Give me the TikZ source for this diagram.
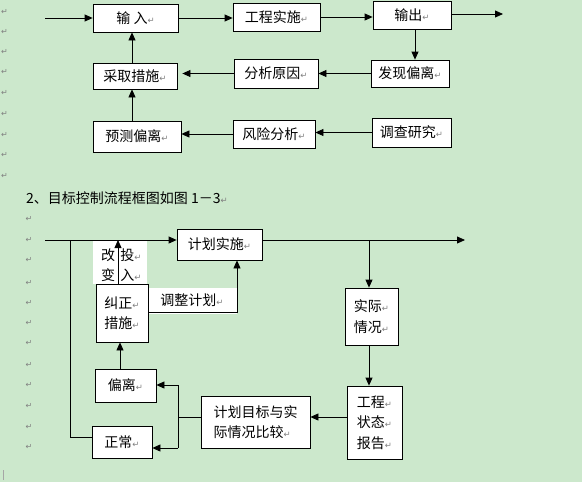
\documentclass[tikz,border=0pt]{standalone}
\usepackage{fontspec}
\setmainfont{Noto Sans CJK SC}
\newfontfamily\symf{DejaVu Sans}
\usetikzlibrary{arrows.meta}
\definecolor{bg}{RGB}{204,232,204}
\newcommand{\pmk}{{\symf\fontsize{8.5}{8.5}\selectfont\textcolor{gray}{↵}}}
\begin{document}
\begin{tikzpicture}[x=1pt,y=-1pt,
  box/.style={draw, fill=white, line width=0.8pt, inner sep=0pt, font=\fontsize{14}{20.5}\selectfont, align=center},
  lbl/.style={inner sep=0pt, font=\fontsize{14}{20.5}\selectfont},
  arr/.style={-{Triangle[length=8pt,width=7pt]}, line width=0.8pt},
  ln/.style={line width=0.8pt},
  mk/.style={inner sep=0pt, font=\symf\fontsize{8}{8}\selectfont, text=gray}]
\fill[bg] (0,0) rectangle (582,482);
\useasboundingbox (0,0) rectangle (582,482);

% margin paragraph marks
\foreach \yy [count=\i] in {12,32,52,72,93,114,135,155,176}
  \node[mk] (ma\i) at (4.5,\yy) {↵};
\foreach \yy [count=\i] in {219,240,260,283,303,323,343,365,385,406,427,447}
  \node[mk] (mb\i) at (29,\yy) {↵};
\draw[gray!70, line width=0.5pt] (3,470) -- (3,480);

% ---------- top diagram ----------
\node[box, minimum width=85pt, minimum height=28pt] (in) at (135.5,18) {输 入\pmk};
\node[box, minimum width=87pt, minimum height=28pt] (exec) at (276.5,17) {工程实施\pmk};
\node[box, minimum width=78pt, minimum height=28pt] (out) at (412,15) {输出\pmk};
\node[box, minimum width=78pt, minimum height=27pt] (find) at (410,73.5) {发现偏离\pmk};
\node[box, minimum width=84pt, minimum height=29pt] (ana) at (276,73.5) {分析原因\pmk};
\node[box, minimum width=84pt, minimum height=26pt] (act) at (135,76) {采取措施\pmk};
\node[box, minimum width=88pt, minimum height=31pt] (pred) at (137,136.5) {预测偏离\pmk};
\node[box, minimum width=82pt, minimum height=28pt] (risk) at (274,134) {风险分析\pmk};
\node[box, minimum width=79pt, minimum height=29pt] (surv) at (411.5,132.5) {调查研究\pmk};

\coordinate (s1) at (45,18);
\coordinate (e1) at (503,14);
\draw[arr] (s1) -- (in.west);
\draw[arr] (in.east) -- (in.east -| exec.west);
\draw[arr] (exec.east) -- (exec.east -| out.west);
\draw[arr] (out.east |- e1) -- (e1);
\draw[arr] ([xshift=3pt]out.south) -- ([xshift=3pt]out.south |- find.north);
\draw[arr] (find.west) -- (find.west -| ana.east);
\draw[arr] (ana.west) -- ([xshift=5pt]ana.west -| act.east);
\draw[arr] ([xshift=-3pt]act.north) -- ([xshift=-3pt]act.north |- in.south);
\draw[arr] ([xshift=-5pt]pred.north) -- ([xshift=-5pt]pred.north |- act.south);
\draw[arr] (risk.west) -- (risk.west -| pred.east);
\draw[arr] (surv.west) -- (surv.west -| risk.east);

% ---------- caption ----------
\node[lbl, anchor=west] (cap) at (26,198) {2、目标控制流程框图如图 1－3\pmk};

% ---------- bottom diagram ----------
% white label areas
\fill[white] (93,241) rectangle (147,284);
\fill[white] (148,288) rectangle (237,314);
\node[lbl] (gai) at (108,255) {改};
\node[lbl] (tou) at (131,255) {投\pmk};
\node[lbl] (bian) at (108,275) {变};
\node[lbl] (ru) at (131,275) {入\pmk};
\node[lbl] (adj) at (192,300) {调整计划\pmk};

\node[box, minimum width=85pt, minimum height=31pt] (plan) at (219.5,244.5) {计划实施\pmk};
\node[box, minimum width=53pt, minimum height=57pt] (real) at (371.5,316.5) {实际\pmk\\情况\pmk};
\node[box, minimum width=55pt, minimum height=73pt] (rep) at (374.5,422.5) {工程\pmk\\状态\pmk\\报告\pmk};
\node[box, minimum width=109pt, minimum height=52pt, align=left] (cmp) at (255.5,422) {计划目标与实\\际情况比较\pmk};
\node[box, minimum width=61pt, minimum height=33pt] (dev) at (125.5,385.5) {偏离\pmk};
\node[box, minimum width=60pt, minimum height=32pt] (nor) at (122,442) {正常\pmk};
\node[box, minimum width=52pt, minimum height=58pt] (cor) at (122,313) {纠正\pmk\\措施\pmk};

\coordinate (s2) at (45,240);
\coordinate (e2) at (465,240);
\coordinate (jr) at (369,240);
\coordinate (jl) at (70,240);
\coordinate (ju) at (118,240);
\coordinate (cb) at (178,417);
\coordinate (cu) at (178,385);
\coordinate (cd) at (178,448);
\coordinate (ax) at (237,312);

\draw[arr] (s2) -- (s2 -| plan.west);
\draw[arr] (plan.east |- e2) -- (e2);
\draw[arr] (jr) -- (jr |- real.north);
\draw[arr] (jr |- real.south) -- (jr |- rep.north);
\draw[arr] (rep.west |- cb) -- (cb -| cmp.east);
\draw[ln] (cmp.west |- cb) -- (cb);
\draw[ln] (cu) -- (cd);
\draw[arr] (cu) -- (cu -| dev.east);
\draw[arr] (cd) -- (cd -| nor.east);
\draw[ln] (nor.west |- 0,437) -- (jl |- 0,437) -- (jl);
\draw[arr] (dev.north -| 120,0) -- (cor.south -| 120,0);
\draw[arr] (cor.north -| ju) -- (ju);
\draw[arr] (cor.east |- ax) -- (ax) -- (ax |- plan.south);
\end{tikzpicture}
\end{document}
